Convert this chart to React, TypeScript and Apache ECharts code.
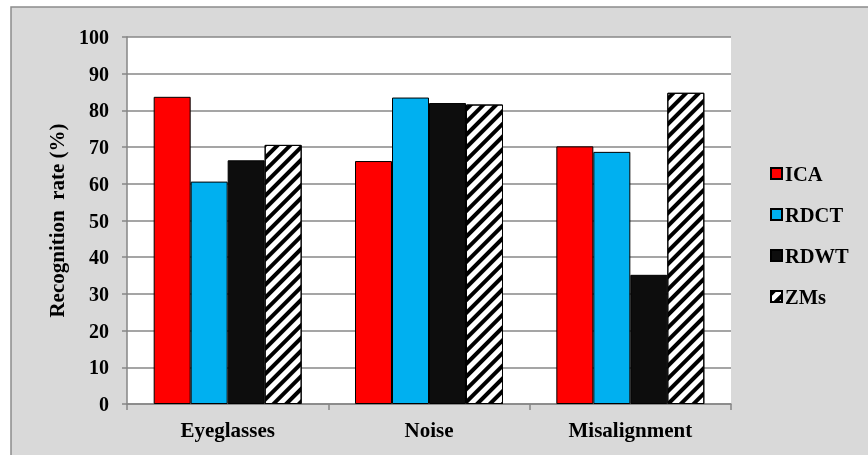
import React, { useEffect, useRef } from "react";
import * as echarts from "echarts";

const categories = ["Eyeglasses", "Noise", "Misalignment"];
const seriesNames = ["ICA", "RDCT", "RDWT", "ZMs"];
const icaValues = [83.7, 66.2, 70.2];
const rdctValues = [60.6, 83.5, 68.7];
const rdwtValues = [66.4, 82.0, 35.2];
const zmsValues = [70.6, 81.6, 84.8];
const yTicks = [0, 10, 20, 30, 40, 50, 60, 70, 80, 90, 100];

const FONT = '"Liberation Serif", "Times New Roman", serif';

export default function App() {
  const ref = useRef<HTMLDivElement>(null);
  useEffect(() => {
    if (!ref.current) return;
    const chart = echarts.init(ref.current, undefined, { renderer: "svg" });
    const border = { borderColor: "#000", borderWidth: 1 };
    const values = [icaValues, rdctValues, rdwtValues, zmsValues];
    const colors = ["#ff0000", "#00b0f0", "#0d0d0d", "#ffffff"];
    chart.setOption({
      animation: false,
      graphic: [
        {
          type: "rect",
          shape: { x: 11, y: 7, width: 870, height: 460 },
          style: { fill: "#d9d9d9", stroke: "#8c8c8c", lineWidth: 1.5 },
          z: -10,
          silent: true,
        },
      ],
      grid: {
        left: 127,
        right: 137,
        top: 37,
        bottom: 51,
        show: true,
        backgroundColor: "#ffffff",
        borderWidth: 0,
      },
      legend: {
        orient: "vertical",
        left: 765,
        top: 158,
        itemWidth: 11,
        itemHeight: 11,
        itemGap: 20,
        icon: "rect",
        data: seriesNames,
        textStyle: {
          fontFamily: FONT,
          fontWeight: "bold",
          fontSize: 20.5,
          color: "#000",
          lineHeight: 20,
          padding: [0, 0, 0, -2],
        },
      },
      xAxis: {
        type: "category",
        data: categories,
        axisLine: { lineStyle: { color: "#868686", width: 1.5 } },
        axisTick: { show: true, length: 6, lineStyle: { color: "#868686", width: 1.5 } },
        axisLabel: {
          fontFamily: FONT,
          fontWeight: "bold",
          fontSize: 21,
          color: "#000",
          margin: 15,
        },
      },
      yAxis: {
        type: "value",
        min: 0,
        max: 100,
        interval: 10,
        name: "Recognition  rate (%)",
        nameLocation: "middle",
        nameGap: 60,
        nameTextStyle: {
          fontFamily: FONT,
          fontWeight: "bold",
          fontSize: 21,
          color: "#000",
        },
        axisLine: { show: true, lineStyle: { color: "#868686", width: 1.5 } },
        axisTick: { show: true, length: 5, lineStyle: { color: "#868686", width: 1.5 } },
        splitLine: { lineStyle: { color: "#878787", width: 1.5 } },
        axisLabel: {
          fontFamily: FONT,
          fontWeight: "bold",
          fontSize: 20,
          color: "#000",
          margin: 18,
          formatter: (v: number) => (yTicks.includes(v) ? String(v) : ""),
        },
      },
      series: seriesNames.map((name, i) => ({
        name,
        type: "bar",
        data: values[i],
        barGap: "0%",
        barCategoryGap: "26.5%",
        itemStyle:
          i === 3
            ? {
                color: "#ffffff",
                ...border,
                decal: {
                  symbol: "rect",
                  color: "#000000",
                  backgroundColor: "#ffffff",
                  dashArrayX: [1, 0],
                  dashArrayY: [4, 4.5],
                  rotation: -Math.PI / 4,
                },
              }
            : { color: colors[i], ...border },
      })),
    });
    return () => chart.dispose();
  }, []);
  return (
    <div
      ref={ref}
      style={{ position: "fixed", left: 0, top: 0, width: 868, height: 455 }}
    />
  );
}
